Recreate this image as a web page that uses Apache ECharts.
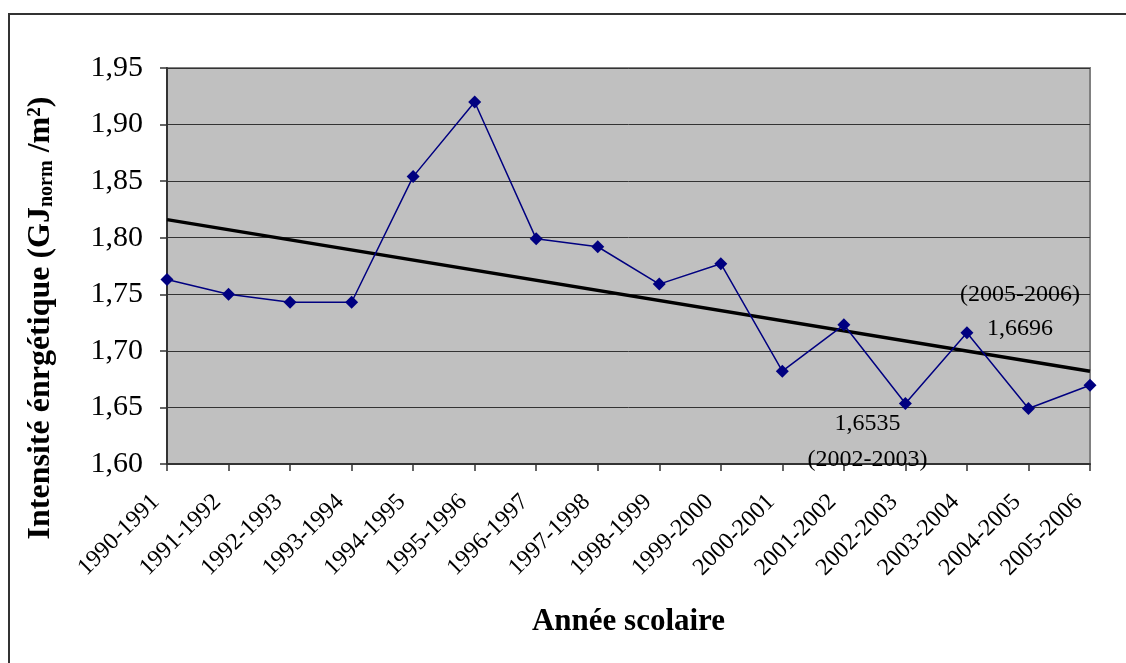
<!DOCTYPE html>
<html>
<head>
<meta charset="utf-8">
<script src="https://cdn.jsdelivr.net/npm/echarts@6/dist/echarts.min.js"></script>
<style>
  html, body { margin: 0; padding: 0; background: #fff; }
  #chart { width: 1126px; height: 663px; }
</style>
</head>
<body>
<div id="chart"></div>
<script>
// années scolaires
var annees = ['1990-1991', '1991-1992', '1992-1993', '1993-1994', '1994-1995', '1995-1996',
  '1996-1997', '1997-1998', '1998-1999', '1999-2000', '2000-2001', '2001-2002',
  '2002-2003', '2003-2004', '2004-2005', '2005-2006'];
// intensité énergétique
var intensite = [1.763, 1.750, 1.743, 1.743, 1.854, 1.920, 1.799, 1.792, 1.759, 1.777,
  1.682, 1.723, 1.6535, 1.716, 1.649, 1.6696];
// tendance linéaire (extrémités)
var tendance = [1.816, null, null, null, null, null, null, null, null, null,
  null, null, null, null, null, 1.682];

var serif = '"Liberation Serif", "Times New Roman", serif';
var chart = echarts.init(document.getElementById('chart'));

var pointsData = intensite.map(function (v, i) {
  if (annees[i] === '2002-2003') {
    return {
      value: v,
      label: {
        show: true, position: 'bottom', offset: [-38, -9],
        formatter: '1,6535\n(2002-2003)',
        fontFamily: serif, fontSize: 24, color: '#000', lineHeight: 36
      }
    };
  }
  if (annees[i] === '2005-2006') {
    return {
      value: v,
      label: {
        show: true, position: 'top', offset: [-70, -28],
        formatter: '(2005-2006)\n1,6696',
        fontFamily: serif, fontSize: 24, color: '#000', lineHeight: 34,
        align: 'center'
      }
    };
  }
  return v;
});

var option = {
  animation: false,
  backgroundColor: '#fff',
  graphic: [
    {
      type: 'rect',
      shape: { x: 9, y: 14, width: 1130, height: 660 },
      style: { fill: null, stroke: '#333', lineWidth: 2 }
    }
  ],
  grid: {
    left: 167, top: 68, right: 36, bottom: 199,
    show: true,
    backgroundColor: '#c0c0c0',
    borderColor: '#808080',
    borderWidth: 2
  },
  xAxis: {
    type: 'category',
    data: annees,
    boundaryGap: false,
    name: 'Année scolaire',
    nameLocation: 'middle',
    nameGap: 142,
    nameTextStyle: { fontFamily: serif, fontSize: 31, fontWeight: 'bold', color: '#000' },
    axisLine: { lineStyle: { color: '#333', width: 2 } },
    axisTick: { length: 7, lineStyle: { color: '#333', width: 1.5 } },
    axisLabel: {
      rotate: 45, margin: 23,
      padding: [0, 16, 0, 0],
      fontFamily: serif, fontSize: 24, color: '#000'
    },
    splitLine: { show: false }
  },
  yAxis: {
    type: 'value',
    min: 1.6, max: 1.95, interval: 0.05,
    name: '{a|Intensité énrgétique (GJ}{s|norm}{a| /m²)}',
    nameLocation: 'middle',
    nameGap: 110,
    nameRotate: 90,
    nameTextStyle: {
      padding: [0, 104, 0, 0],
      rich: {
        a: { fontFamily: serif, fontSize: 32, fontWeight: 'bold', color: '#000' },
        s: { fontFamily: serif, fontSize: 20, fontWeight: 'bold', color: '#000', verticalAlign: 'bottom', padding: [10, 0, 0, 0] }
      }
    },
    axisLine: { show: true, lineStyle: { color: '#333', width: 2 } },
    axisTick: { show: true, length: 7, lineStyle: { color: '#333', width: 1.5 } },
    axisLabel: {
      margin: 24,
      fontFamily: serif, fontSize: 30, color: '#000',
      formatter: function (v) { return v.toFixed(2).replace('.', ','); }
    },
    splitLine: { show: true, lineStyle: { color: '#333', width: 1 } }
  },
  series: [
    {
      name: 'Tendance',
      type: 'line',
      data: tendance,
      connectNulls: true,
      showSymbol: false,
      symbol: 'none',
      lineStyle: { color: '#000', width: 3.5 },
      z: 3
    },
    {
      name: 'Intensité',
      type: 'line',
      data: pointsData,
      symbol: 'diamond',
      symbolSize: 13,
      itemStyle: { color: '#000080' },
      lineStyle: { color: '#000080', width: 1.5 },
      z: 4
    }
  ]
};
chart.setOption(option);
</script>
</body>
</html>
